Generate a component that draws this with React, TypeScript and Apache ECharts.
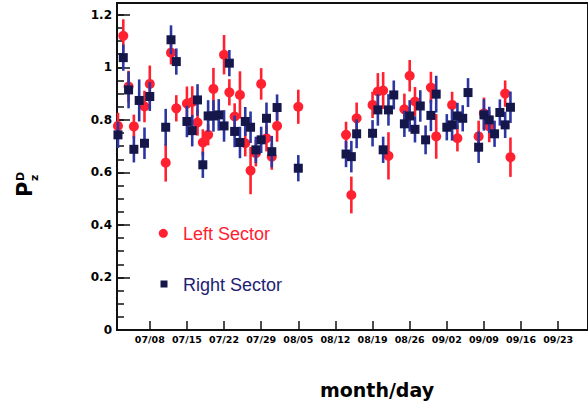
import { useEffect, useRef } from "react";
import * as echarts from "echarts";

// Day numbers are counted from 07/01 (day 0).
const tickDays = [7, 14, 21, 28, 35, 42, 49, 56, 63, 70, 77, 84];
const tickLabels = [
  "07/08", "07/15", "07/22", "07/29", "08/05", "08/12",
  "08/19", "08/26", "09/02", "09/09", "09/16", "09/23",
];

const leftDays = [
  1, 2, 3, 4, 6, 7, 10, 11, 12, 14, 15, 16, 17, 18, 19, 21, 22, 23, 24, 25,
  26, 27, 28, 29, 30, 31, 35, 44, 45, 46, 49, 50, 51, 52, 55, 56, 57, 60, 61,
  64, 65, 69, 70, 71, 74, 75,
];
const leftValues = [
  0.777, 1.12, 0.927, 0.775, 0.851, 0.937, 0.637, 1.056, 0.844, 0.862, 0.868,
  0.79, 0.714, 0.743, 0.918, 1.048, 0.905, 0.813, 0.895, 0.711, 0.607, 0.673,
  0.937, 0.73, 0.66, 0.777, 0.85, 0.743, 0.514, 0.806, 0.857, 0.908, 0.912,
  0.663, 0.84, 0.968, 0.87, 0.923, 0.737, 0.857, 0.73, 0.737, 0.825, 0.775,
  0.9, 0.658,
];
const leftErrors = [
  0.05, 0.063, 0.06, 0.045, 0.06, 0.07, 0.072, 0.045, 0.05, 0.065, 0.06, 0.05,
  0.05, 0.04, 0.08, 0.075, 0.05, 0.05, 0.09, 0.05, 0.09, 0.05, 0.06, 0.05,
  0.05, 0.06, 0.065, 0.05, 0.07, 0.06, 0.05, 0.07, 0.07, 0.09, 0.06, 0.06,
  0.055, 0.06, 0.085, 0.05, 0.05, 0.06, 0.06, 0.06, 0.05, 0.075,
];

const rightDays = [
  1, 2, 3, 4, 5, 6, 7, 10, 11, 12, 14, 15, 16, 17, 18, 19, 20, 21, 22, 23, 24,
  25, 26, 27, 28, 29, 30, 31, 35, 44, 45, 46, 49, 50, 51, 52, 53, 55, 56, 57,
  58, 59, 60, 61, 63, 64, 65, 66, 67, 69, 70, 71, 72, 73, 74, 75,
];
const rightValues = [
  0.743, 1.037, 0.914, 0.688, 0.874, 0.711, 0.889, 0.772, 1.105, 1.022, 0.794,
  0.759, 0.876, 0.629, 0.815, 0.815, 0.819, 0.777, 1.016, 0.756, 0.714, 0.794,
  0.772, 0.686, 0.724, 0.806, 0.679, 0.847, 0.616, 0.67, 0.66, 0.747, 0.749,
  0.838, 0.686, 0.838, 0.895, 0.785, 0.815, 0.764, 0.853, 0.724, 0.817, 0.898,
  0.772, 0.781, 0.815, 0.806, 0.904, 0.696, 0.819, 0.8, 0.747, 0.828, 0.781,
  0.848,
];
const rightErrors = [
  0.05, 0.05, 0.07, 0.05, 0.08, 0.06, 0.055, 0.07, 0.055, 0.05, 0.06, 0.06,
  0.06, 0.05, 0.06, 0.06, 0.06, 0.06, 0.05, 0.06, 0.06, 0.055, 0.06, 0.05,
  0.05, 0.06, 0.06, 0.05, 0.05, 0.05, 0.06, 0.055, 0.05, 0.06, 0.05, 0.06,
  0.055, 0.05, 0.06, 0.05, 0.06, 0.055, 0.06, 0.07, 0.05, 0.06, 0.05, 0.05,
  0.055, 0.06, 0.06, 0.05, 0.05, 0.05, 0.05, 0.06,
];

const RED = "#ff2030";
const NAVY = "#15164a";
const BAR_BLUE = "#2c36a2";
const INK = "#111111";
const NUM_FONT = "DejaVu Sans";

function makeErrorBars(color: string) {
  return (_params: any, api: any) => {
    const x = api.value(0);
    const v = api.value(1);
    const e = api.value(2);
    const hi = api.coord([x, v + e]);
    const lo = api.coord([x, v - e]);
    return {
      type: "line",
      shape: { x1: hi[0], y1: hi[1], x2: lo[0], y2: lo[1] },
      style: { stroke: color, lineWidth: 2.6 },
    };
  };
}

export default function App() {
  const ref = useRef<HTMLDivElement>(null);

  useEffect(() => {
    if (!ref.current) return;
    const chart = echarts.init(ref.current, undefined, { renderer: "svg" });

    const leftPoints = leftDays.map((d, i) => [d, leftValues[i], leftErrors[i]]);
    const rightPoints = rightDays.map((d, i) => [d, rightValues[i], rightErrors[i]]);

    // The frame continues past the right edge of the page.
    const xMin = 0.8176;
    const xMax = 89.62;
    const yMax = 1.245;

    chart.setOption({
      animation: false,
      backgroundColor: "#ffffff",
      grid: {
        left: 117,
        right: -3,
        top: 3,
        bottom: 77,
        show: true,
        borderColor: INK,
        borderWidth: 2,
        backgroundColor: "transparent",
      },
      xAxis: {
        type: "value",
        position: "bottom",
        min: xMin,
        max: xMax,
        axisLine: { show: true, onZero: false, lineStyle: { color: INK, width: 2 } },
        axisTick: {
          show: true,
          inside: true,
          length: 9,
          customValues: tickDays,
          lineStyle: { color: INK, width: 1.5 },
        },
        axisLabel: {
          show: true,
          customValues: tickDays,
          formatter: (v: number) => {
            const i = tickDays.indexOf(Math.round(v));
            return i >= 0 ? tickLabels[i] : "";
          },
          fontFamily: NUM_FONT,
          fontWeight: "bold",
          fontSize: 9.5,
          color: "#000",
          margin: 4,
        },
        splitLine: { show: false },
      },
      yAxis: [
        {
          type: "value",
          min: 0,
          max: yMax,
          interval: 0.05,
          axisLine: { show: true, onZero: false, lineStyle: { color: INK, width: 2 } },
          axisTick: { show: true, inside: true, length: 7, lineStyle: { color: INK, width: 1.5 } },
          axisLabel: { show: false },
          splitLine: { show: false },
        },
        {
          type: "value",
          position: "left",
          min: 0,
          max: yMax,
          interval: 0.2,
          axisLine: { show: false },
          axisTick: { show: true, inside: true, length: 13, lineStyle: { color: INK, width: 1.5 } },
          axisLabel: {
            show: true,
            showMaxLabel: false,
            fontFamily: NUM_FONT,
            fontWeight: "bold",
            fontSize: 12,
            color: "#000",
            margin: 5,
          },
          splitLine: { show: false },
        },
      ],
      series: [
        {
          name: "Left Sector errors",
          type: "custom",
          yAxisIndex: 0,
          renderItem: makeErrorBars(RED),
          encode: { x: 0, y: 1 },
          data: leftPoints,
          z: 2,
        },
        {
          name: "Left Sector",
          type: "scatter",
          yAxisIndex: 0,
          symbol: "circle",
          symbolSize: 10,
          itemStyle: { color: RED, opacity: 1 },
          data: leftPoints.map((p) => [p[0], p[1]]),
          z: 3,
        },
        {
          name: "Right Sector errors",
          type: "custom",
          yAxisIndex: 0,
          renderItem: makeErrorBars(BAR_BLUE),
          encode: { x: 0, y: 1 },
          data: rightPoints,
          z: 4,
        },
        {
          name: "Right Sector",
          type: "scatter",
          yAxisIndex: 0,
          symbol: "rect",
          symbolSize: 9,
          itemStyle: { color: NAVY, opacity: 1 },
          data: rightPoints.map((p) => [p[0], p[1]]),
          z: 5,
        },
      ],
      graphic: [
        // legend
        { type: "circle", shape: { cx: 163.3, cy: 233.3, r: 4.5 }, style: { fill: RED } },
        {
          type: "text",
          x: 183,
          y: 233.5,
          style: {
            text: "Left Sector",
            fill: RED,
            font: "18px 'Liberation Sans', Arial, sans-serif",
            verticalAlign: "middle",
            align: "left",
          },
        },
        { type: "rect", shape: { x: 160.5, y: 280.5, width: 7, height: 7 }, style: { fill: NAVY } },
        {
          type: "text",
          x: 183,
          y: 285,
          style: {
            text: "Right Sector",
            fill: "#1e2272",
            font: "18px 'Liberation Sans', Arial, sans-serif",
            verticalAlign: "middle",
            align: "left",
          },
        },
        // x axis title
        {
          type: "text",
          x: 377,
          y: 390,
          style: {
            text: "month/day",
            fill: "#000",
            font: "bold 19px 'DejaVu Sans', sans-serif",
            align: "center",
            verticalAlign: "middle",
          },
        },
        // y axis title: P with superscript D and subscript z
        {
          type: "group",
          x: 32,
          y: 197,
          rotation: Math.PI / 2,
          children: [
            {
              type: "text",
              x: 0,
              y: -7.5,
              style: {
                text: "P",
                fill: "#000",
                font: "bold 21px 'DejaVu Sans', sans-serif",
                align: "left",
                verticalAlign: "middle",
              },
            },
            {
              type: "text",
              x: 16,
              y: -12,
              style: {
                text: "D",
                fill: "#000",
                font: "bold 11px 'DejaVu Sans', sans-serif",
                align: "left",
                verticalAlign: "middle",
              },
            },
            {
              type: "text",
              x: 16,
              y: 2.5,
              style: {
                text: "z",
                fill: "#000",
                font: "bold 11px 'DejaVu Sans', sans-serif",
                align: "left",
                verticalAlign: "middle",
              },
            },
          ],
        },
      ],
    });

    return () => {
      chart.dispose();
    };
  }, []);

  return (
    <div
      ref={ref}
      style={{ position: "absolute", left: 0, top: 0, width: 588, height: 407, background: "#fff" }}
    />
  );
}
